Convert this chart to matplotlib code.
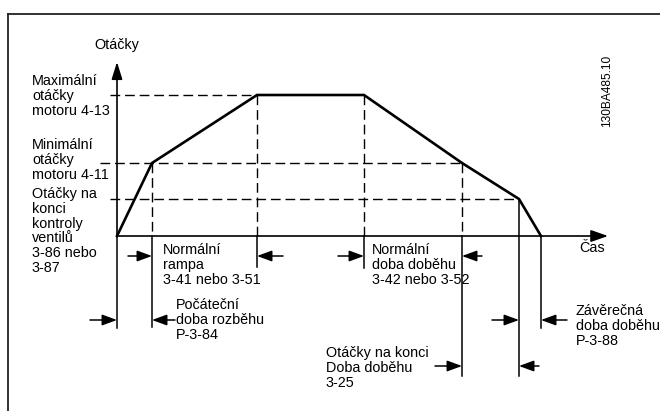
import matplotlib
matplotlib.use('Agg')
import matplotlib.pyplot as plt

plt.rcParams['font.family'] = ['Liberation Sans', 'DejaVu Sans']

# speed profile: time (arbitrary units) and speed
t_profile = [0, 35, 140, 247, 345, 402, 424]
n_profile = [0, 73, 141, 141, 73, 37, 0]

n_max = 141
n_min = 73
n_valve = 37

# guide lines
h_dashes = [(n_max, -7, 140), (n_min, -17, 345), (n_valve, -7, 402)]
v_dashes = [(35, n_min), (140, n_max), (247, n_max), (345, n_min)]
# vertical markers below the time axis: (t, top, bottom)
v_marks = [(0, 0, -92), (35, 0, -91), (140, 0, -31), (247, 0, -32),
           (345, 0, -140), (402, n_valve, -140), (424, 0, -92)]
# time span arrows: (tip, tail, level)
spans = [(0, -27, -84), (35, 58, -84), (35, 11, -20), (140, 166, -20),
         (247, 221, -20), (345, 365, -20), (402, 375, -84), (424, 450, -84),
         (345, 318, -130), (402, 422, -130)]

fig = plt.figure(figsize=(6.6, 4.11), dpi=100)
ax = fig.add_axes([0, 0, 1, 1])
ax.set_xlim(-117, 543)
ax.set_ylim(-175, 236)
ax.axis('off')

# frame (top and left edges)
ax.plot([-109, 543], [222, 222], color='#222222', lw=1.3)
ax.plot([-109, -109], [222, -175], color='#222222', lw=1.3)

# axes with arrows
ax.annotate('', xy=(0, 174), xytext=(0, 0),
            arrowprops=dict(arrowstyle='-|>,head_length=0.8,head_width=0.25',
                            color='black', lw=1.2, mutation_scale=13,
                            shrinkA=0, shrinkB=0))
ax.annotate('', xy=(491, 0), xytext=(0, 0),
            arrowprops=dict(arrowstyle='-|>,head_length=0.8,head_width=0.28',
                            color='black', lw=1.2, mutation_scale=13,
                            shrinkA=0, shrinkB=0))

for y, x0, x1 in h_dashes:
    ax.plot([x0, x1], [y, y], color='black', lw=1.0, dashes=(7, 3.5))
for x, y in v_dashes:
    ax.plot([x, x], [y, 0], color='black', lw=1.0, dashes=(7, 3.5))
for x, y0, y1 in v_marks:
    ax.plot([x, x], [y0, y1], color='black', lw=1.1)

# speed profile
ax.plot(t_profile, n_profile, color='black', lw=1.9, solid_joinstyle='miter')

for tip, tail, y in spans:
    ax.annotate('', xy=(tip, y), xytext=(tail, y),
                arrowprops=dict(arrowstyle='-|>,head_length=0.6,head_width=0.22',
                                color='black', lw=1.1, mutation_scale=15,
                                shrinkA=0, shrinkB=0))

fs = 10.4
ls = 1.06
ax.text(0, 191, 'Otáčky', ha='center', va='center', fontsize=fs)
ax.text(462, 236 - 248, 'Čas', ha='left', va='center', fontsize=fs)
ax.text(-85, 236 - 96, 'Maximální\notáčky\nmotoru 4-13', ha='left', va='center',
        fontsize=fs, linespacing=ls)
ax.text(-85, 236 - 160, 'Minimální\notáčky\nmotoru 4-11', ha='left', va='center',
        fontsize=fs, linespacing=ls)
ax.text(-85, 236 - 231, 'Otáčky na\nkonci\nkontroly\nventilů\n3-86 nebo\n3-87',
        ha='left', va='center', fontsize=fs, linespacing=ls)
ax.text(46, 236 - 265, 'Normální\nrampa\n3-41 nebo 3-51', ha='left', va='center',
        fontsize=fs, linespacing=ls)
ax.text(255, 236 - 265, 'Normální\ndoba doběhu\n3-42 nebo 3-52', ha='left',
        va='center', fontsize=fs, linespacing=ls)
ax.text(59, 236 - 320, 'Počáteční\ndoba rozběhu\nP-3-84', ha='left', va='center',
        fontsize=fs, linespacing=ls)
ax.text(459, 236 - 326, 'Závěrečná\ndoba doběhu\nP-3-88', ha='left', va='center',
        fontsize=fs, linespacing=ls)
ax.text(209, 236 - 368, 'Otáčky na konci\nDoba doběhu\n3-25', ha='left',
        va='center', fontsize=fs, linespacing=ls)
ax.text(490, 236 - 91, '130BA485.10', ha='center', va='center', rotation=90,
        fontsize=8.6)

fig.savefig('out.png', dpi=100)
